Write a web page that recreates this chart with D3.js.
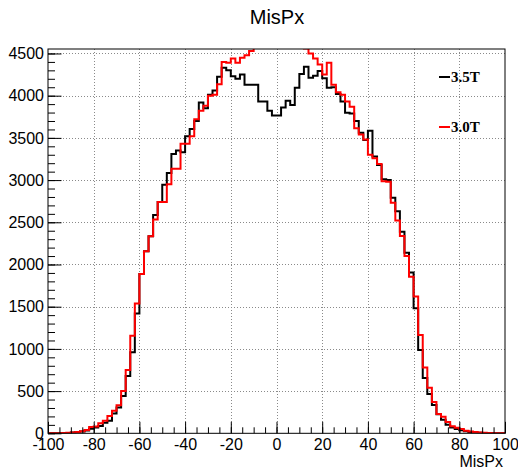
<!DOCTYPE html>
<html><head><meta charset="utf-8">
<script src="https://cdn.jsdelivr.net/npm/d3@7/dist/d3.min.js"></script>
<style>body{margin:0;background:#fff} svg{display:block}</style>
</head><body>
<svg id="chart" width="518" height="469"></svg>
<script>
// ---- data ----
const xRange = [-100, 100];
const binWidth = 2;
const xTickLabels = [-100, -80, -60, -40, -20, 0, 20, 40, 60, 80, 100];
const yTickLabels = [0, 500, 1000, 1500, 2000, 2500, 3000, 3500, 4000, 4500];
const seriesNames = ["3.5T", "3.0T"];
const seriesColors = ["#000000", "#ff0000"];
const counts35T = [
  0, 1, 2, 3, 5, 9, 14, 22, 32, 55,
  70, 87, 126, 150, 235, 305, 442, 679, 959, 1420,
  1886, 2158, 2336, 2585, 2739, 2945, 3085, 3310, 3350, 3330,
  3520, 3606, 3700, 3920, 3850, 4010, 4060, 4225, 4330, 4300,
  4230, 4200, 4250, 4130, 4130, 4130, 3930, 3930, 3820, 3765,
  3765, 3860, 3940, 3890, 4095, 4256, 4343, 4213, 4237, 4291,
  4205, 4095, 4100, 4020, 3930, 3799, 3790, 3700, 3560, 3475,
  3585, 3280, 3180, 3010, 3000, 2790, 2630, 2388, 2140, 1904,
  1482, 987, 655, 466, 335, 225, 160, 100, 70, 50,
  35, 25, 15, 10, 8, 5, 3, 2, 1, 0
];
const counts30T = [
  0, 1, 2, 4, 6, 10, 15, 25, 40, 75,
  80, 118, 150, 205, 268, 333, 501, 750, 1156, 1539,
  1886, 2158, 2336, 2533, 2739, 2740, 2950, 3135, 3135, 3430,
  3430, 3520, 3720, 3820, 3880, 4000, 4010, 4135, 4400, 4390,
  4440, 4390, 4450, 4480, 4530, 4600, 4650, 4700, 4720, 4740,
  4740, 4720, 4700, 4680, 4640, 4600, 4560, 4500, 4440, 4370,
  4250, 4390, 4130, 4040, 4010, 3930, 3870, 3615, 3540, 3480,
  3300, 3260, 3190, 2985, 2980, 2732, 2520, 2337, 2100, 1856,
  1620, 1164, 780, 540, 370, 230, 195, 135, 85, 65,
  50, 30, 22, 15, 10, 6, 4, 2, 1, 1
];
const yMax = 4553;

// ---- layout ----
const svg = d3.select("#chart");
const L = 48, R = 505, T = 49, B = 433.3;
const x = d3.scaleLinear().domain(xRange).range([L, R]);
const y = d3.scaleLinear().domain([0, yMax]).range([B, T]);
const font = "'Liberation Sans', Arial, Helvetica, sans-serif";
const fmt = d => String(d);

svg.append("rect").attr("width", 518).attr("height", 469).attr("fill", "#fff");

// grid
const grid = svg.append("g").attr("stroke", "#8a8a8a").attr("stroke-width", 1)
  .attr("stroke-dasharray", "1 2").attr("shape-rendering", "crispEdges");
grid.selectAll("line.gx").data(xTickLabels.filter(v => v > xRange[0] && v < xRange[1]))
  .join("line").attr("class", "gx")
  .attr("x1", d => Math.round(x(d)) + 0.5).attr("x2", d => Math.round(x(d)) + 0.5)
  .attr("y1", T).attr("y2", B);
grid.selectAll("line.gy").data(yTickLabels.filter(v => v > 0))
  .join("line").attr("class", "gy")
  .attr("y1", d => Math.round(y(d)) + 0.5).attr("y2", d => Math.round(y(d)) + 0.5)
  .attr("x1", L).attr("x2", R);

// histograms
svg.append("defs").append("clipPath").attr("id", "frameClip")
  .append("rect").attr("x", L).attr("y", T).attr("width", R - L).attr("height", B - T);

function stepPoints(counts) {
  const pts = [[xRange[0], 0]];
  counts.forEach((c, i) => {
    const lo = xRange[0] + i * binWidth;
    pts.push([lo, c], [lo + binWidth, c]);
  });
  pts.push([xRange[1], 0]);
  return pts;
}
const line = d3.line().x(d => x(d[0])).y(d => y(d[1]));
const histG = svg.append("g").attr("clip-path", "url(#frameClip)");
[counts35T, counts30T].forEach((counts, i) => {
  histG.append("path").datum(stepPoints(counts))
    .attr("d", line).attr("fill", "none")
    .attr("stroke", seriesColors[i]).attr("stroke-width", 2)
    .attr("stroke-linejoin", "miter");
});

// axes
const xAxis = d3.axisBottom(x).tickValues(xTickLabels).tickSize(-11.5).tickPadding(5).tickFormat(fmt);
const xMinor = d3.axisBottom(x).tickValues(d3.range(xRange[0], xRange[1] + 0.1, 5)).tickSize(-6).tickFormat("");
const gxm = svg.append("g").attr("transform", `translate(0,${B})`).call(xMinor);
const gx = svg.append("g").attr("transform", `translate(0,${B})`).call(xAxis);
[gx, gxm].forEach(g => { g.select(".domain").remove(); g.selectAll("line").attr("stroke", "#000"); });
gx.selectAll("text").attr("font-family", font).attr("font-size", 16).attr("fill", "#000");

const yAxis = d3.axisLeft(y).tickValues(yTickLabels).tickSize(-13.5).tickPadding(4).tickFormat(fmt);
const yMinor = d3.axisLeft(y).tickValues(d3.range(0, 4501, 100)).tickSize(-7).tickFormat("");
const gym = svg.append("g").attr("transform", `translate(${L},0)`).call(yMinor);
const gy = svg.append("g").attr("transform", `translate(${L},0)`).call(yAxis);
[gy, gym].forEach(g => { g.select(".domain").remove(); g.selectAll("line").attr("stroke", "#000"); });
gy.selectAll("text").attr("font-family", font).attr("font-size", 16).attr("fill", "#000");

// frame
svg.append("rect").attr("x", L).attr("y", T).attr("width", R - L).attr("height", B - T)
  .attr("fill", "none").attr("stroke", "#000").attr("stroke-width", 1);

// title and axis title
svg.append("text").attr("x", 277).attr("y", 24).attr("text-anchor", "middle")
  .attr("font-family", font).attr("font-size", 20).text("MisPx");
svg.append("text").attr("x", 503).attr("y", 467).attr("text-anchor", "end")
  .attr("font-family", font).attr("font-size", 16).text("MisPx");

// legend
const legY = [77, 127];
seriesNames.forEach((name, i) => {
  svg.append("line").attr("x1", 439).attr("x2", 450).attr("y1", legY[i]).attr("y2", legY[i])
    .attr("stroke", seriesColors[i]).attr("stroke-width", 2);
  svg.append("text").attr("x", 451).attr("y", legY[i] + 5)
    .attr("font-family", "'Liberation Serif', 'Times New Roman', serif")
    .attr("font-weight", "bold").attr("font-size", 15).attr("fill", "#000").text(name);
});
</script>
</body></html>
